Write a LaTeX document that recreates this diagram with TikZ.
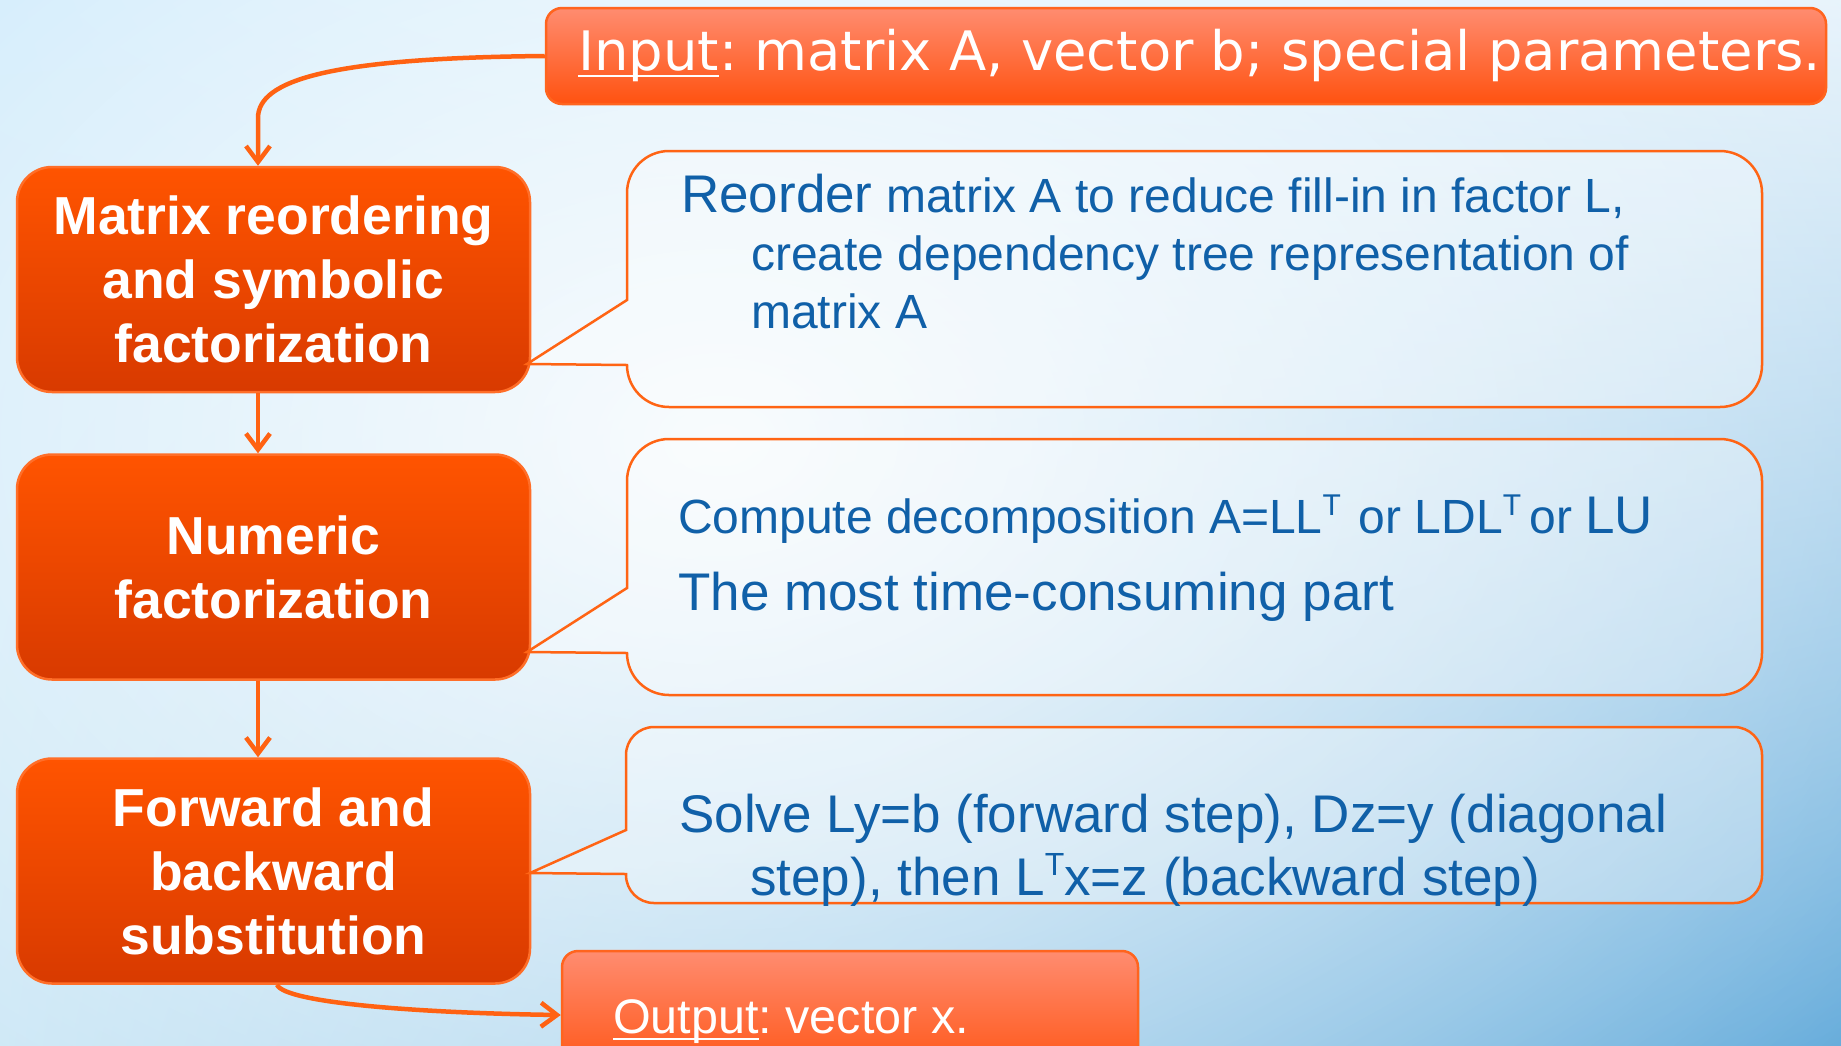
\documentclass[tikz,border=0pt]{standalone}
\usepackage{fontspec}
\setmainfont{Liberation Sans}
\newfontfamily\widesans{DejaVu Sans}
\usetikzlibrary{arrows.meta,fadings,shadings}
\frenchspacing

% palette
\definecolor{bgTL}{RGB}{188,227,250}
\definecolor{bgTR}{RGB}{226,241,251}
\definecolor{bgBL}{RGB}{186,223,243}
\definecolor{bgBR}{RGB}{76,158,213}
\definecolor{boxtop}{RGB}{255,84,0}
\definecolor{boxbot}{RGB}{216,58,0}
\definecolor{boxedge}{RGB}{255,110,40}
\definecolor{iotop}{RGB}{255,140,112}
\definecolor{iobot}{RGB}{255,82,16}
\definecolor{ioedge}{RGB}{255,100,30}
\definecolor{flowcol}{RGB}{255,98,18}
\definecolor{calloutedge}{RGB}{255,100,20}
\definecolor{descblue}{RGB}{16,96,168}

\tikzfading[name=glowfade, inner color=transparent!0, outer color=transparent!100]

% underlined word with a fixed rule
\newsavebox\ulinebox
\newcommand{\underlined}[1]{\sbox\ulinebox{#1}\rlap{\rule[-7pt]{\wd\ulinebox}{2.5pt}}\usebox\ulinebox}
% transpose marks
\newcommand{\supT}{\raisebox{18pt}{\fontsize{30}{30}\selectfont T}}
\newcommand{\supTbig}{\raisebox{20pt}{\fontsize{32}{32}\selectfont T}}

\begin{document}
\begin{tikzpicture}[x=1pt,y=-1pt,
  flowbox/.style={draw=boxedge, line width=2.5pt, rounded corners=35pt,
    top color=boxtop, bottom color=boxbot, minimum width=513pt,
    minimum height=225pt, inner sep=0pt, text=white, align=center,
    font=\fontsize{53.5}{64}\selectfont\bfseries},
  iobox/.style={draw=ioedge, line width=2.5pt, rounded corners=16pt,
    top color=iotop, bottom color=iobot, inner sep=0pt},
  callout/.style={draw=calloutedge, line width=2.5pt, fill=white, fill opacity=0.3},
  flow/.style={draw=flowcol, line width=4.5pt,
    -{Straight Barb[length=16pt, width=24pt]}},
  desc/.style={text=descblue, anchor=base west, inner sep=0pt,
    font=\fontsize{48}{58}\selectfont},
  desclarge/.style={desc, font=\fontsize{53}{60}\selectfont},
  iotext/.style={text=white, anchor=base west, inner sep=0pt}
]
\useasboundingbox (0,0) rectangle (1841,1045);
\clip (0,0) rectangle (1841,1045);

% background
\shade[upper left=bgTL, upper right=bgTR, lower left=bgBL, lower right=bgBR]
  (0,0) rectangle (1841,1045);
\fill[white, fill opacity=0.92, path fading=glowfade, fit fading=true]
  (720,440) ellipse [x radius=1700, y radius=1200];

% process steps
\node[flowbox] (m1) at (273.5,279.5) {Matrix reordering\\and symbolic\\factorization};
\node[flowbox] (m2) at (273.5,567) {Numeric\\factorization};
\node[flowbox] (m3) at (273.5,871) {Forward and\\backward\\substitution};

% input and output
\node[iobox, minimum width=1280pt, minimum height=96pt] (inp) at (1186,56) {};
\node[iotext, font=\widesans\fontsize{54.4}{60}\selectfont] (inptxt) at (578,70)
  {\underlined{Input}: matrix A, vector b; special parameters.};
\node[iobox, minimum width=576pt, minimum height=128pt] (outp) at (850,1015) {};
\node[iotext, font=\fontsize{48.5}{56}\selectfont] (outtxt) at (613,1033)
  {\underlined{Output}: vector x.};

% callouts (pointer corners sharp, box corners rounded)
\draw[callout] (527,364) -- (627,365) [rounded corners=42pt] -- (627,407)
  -- (1762,407) -- (1762,151) -- (627,151) [sharp corners] -- (627,300) -- cycle;
\draw[callout] (527,652) -- (627,653) [rounded corners=42pt] -- (627,695)
  -- (1762,695) -- (1762,439) -- (627,439) [sharp corners] -- (627,588) -- cycle;
\draw[callout] (530,873) -- (626,874) [rounded corners=28pt] -- (626,903)
  -- (1762,903) -- (1762,727) -- (626,727) [sharp corners] -- (626,830) -- cycle;

% callout texts
\node[desc] (c1a) at (681,212) {{\fontsize{53}{60}\selectfont Reorder} matrix A to reduce fill-in in factor L,};
\node[desc] (c1b) at (751,270) {create dependency tree representation of};
\node[desc] (c1c) at (751,328) {matrix A};
\node[desc] (c2a) at (678,533) {Compute decomposition A=LL\supT\hspace{18pt}or LDL\supT\hspace{8pt}or {\fontsize{53}{60}\selectfont LU}};
\node[desclarge] (c2b) at (678,610) {The most time-consuming part};
\node[desclarge] (c3a) at (679,832) {Solve Ly=b (forward step), Dz=y (diagonal};
\node[desclarge] (c3b) at (750,895) {step), then L\supTbig x=z (backward step)};

% connectors
\coordinate (spine) at (258,0);
\draw[flow] (inp.west) .. controls (330,58) and (258,80) .. (258,118) -- (m1.north -| spine);
\draw[flow] (m1.south -| spine) -- (m2.north -| spine);
\draw[flow] (m2.south -| spine) -- (m3.north -| spine);
\draw[flow] ([xshift=3.5pt]m3.south) .. controls (285,1003) and (420,1013) .. (outp.west);
\end{tikzpicture}
\end{document}
